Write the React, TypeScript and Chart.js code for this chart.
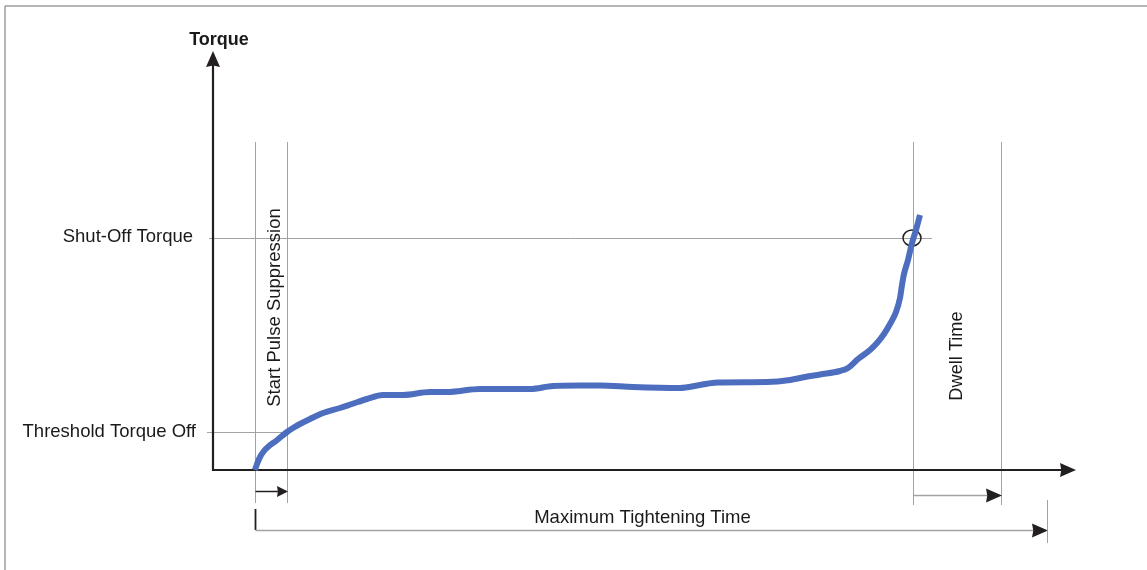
import React, { useEffect, useRef } from "react";
import { Chart, registerables } from "chart.js";

Chart.register(...registerables);

// Torque curve (time units, torque units)
const TIME = [42, 44, 47, 51, 56, 63, 69, 74, 80, 87, 97, 110, 127, 139, 154, 170, 190, 217, 234, 267, 317, 340, 367, 387, 420, 467, 487, 504, 554, 577, 592, 607, 627, 635, 645, 657, 664, 671, 677, 683, 687, 689, 691, 695, 699, 703, 707];
const TORQUE = [0, 6, 13, 19, 24, 29, 34, 38, 42, 46, 51, 57, 62, 66, 71, 75, 75, 78, 78, 81, 81, 84, 84.5, 84.5, 83, 82, 85, 87.5, 88, 90, 93, 95.5, 99, 102, 111, 120, 127, 136, 146, 158, 172, 185, 196, 210, 227, 240, 255];

// Reference levels / times
const THRESHOLD_TORQUE = 38;
const SHUTOFF_TORQUE = 232;
const START_TIME = 42;
const SUPPRESSION_END = 74;
const SHUTOFF_TIME = 700;
const DWELL_END = 788;
const MAX_TIME = 834;

// Labels
const Y_TITLE = "Torque";
const SHUTOFF_LABEL = "Shut-Off Torque";
const THRESHOLD_LABEL = "Threshold Torque Off";
const SUPPRESSION_LABEL = "Start Pulse Suppression";
const DWELL_LABEL = "Dwell Time";
const MAX_LABEL = "Maximum Tightening Time";

const W = 1147;
const H = 570;

const diagramPlugin = {
  id: "diagram",
  beforeDatasetsDraw(chart: any) {
    const { ctx, scales } = chart;
    const xs = scales.x;
    const ys = scales.y;
    const X = (v: number) => xs.getPixelForValue(v);
    const Y = (v: number) => ys.getPixelForValue(v);
    const c = (p: number) => Math.round(p) + 0.5;
    const GRAY = "#a3a3a3";
    const DARK = "#231f20";
    const TXT = "#1a1a1a";

    const line = (x1: number, y1: number, x2: number, y2: number, color: string, w: number) => {
      ctx.beginPath();
      ctx.strokeStyle = color;
      ctx.lineWidth = w;
      ctx.moveTo(x1, y1);
      ctx.lineTo(x2, y2);
      ctx.stroke();
    };
    const headRight = (tipX: number, yy: number, len: number, half: number) => {
      ctx.beginPath();
      ctx.fillStyle = DARK;
      ctx.moveTo(tipX, yy);
      ctx.lineTo(tipX - len, yy - half);
      ctx.lineTo(tipX - len * 0.92, yy);
      ctx.lineTo(tipX - len, yy + half);
      ctx.closePath();
      ctx.fill();
    };

    ctx.save();
    // frame
    line(5, 6, W, 6, "#9c9c9c", 1.5);
    line(5, 6, 5, H, "#9c9c9c", 1.5);

    const x0 = X(0);
    const y0 = Y(0);

    // reference lines
    line(c(X(START_TIME)), 142, c(X(START_TIME)), 503, GRAY, 1);
    line(c(X(SUPPRESSION_END)), 142, c(X(SUPPRESSION_END)), 503, GRAY, 1);
    line(c(X(SHUTOFF_TIME)), 142, c(X(SHUTOFF_TIME)), 505, GRAY, 1);
    line(c(X(DWELL_END)), 142, c(X(DWELL_END)), 505, GRAY, 1);
    line(209, c(Y(SHUTOFF_TORQUE)), 932, c(Y(SHUTOFF_TORQUE)), GRAY, 1);
    line(207, c(Y(THRESHOLD_TORQUE)), c(X(SUPPRESSION_END)), c(Y(THRESHOLD_TORQUE)), GRAY, 1);

    // axes
    line(x0, y0, 1064, y0, DARK, 2.2);
    headRight(1076, y0, 16, 7);
    line(x0, y0 + 1, x0, 62, DARK, 2.2);
    ctx.beginPath();
    ctx.fillStyle = DARK;
    ctx.moveTo(x0, 51);
    ctx.lineTo(x0 - 7, 67);
    ctx.lineTo(x0, 65.5);
    ctx.lineTo(x0 + 7, 67);
    ctx.closePath();
    ctx.fill();

    // start pulse suppression arrow
    const sx1 = c(X(START_TIME));
    const sx2 = X(SUPPRESSION_END) + 1;
    line(sx1, 491.5, sx2 - 8, 491.5, DARK, 1.5);
    headRight(sx2, 491.5, 11, 5.5);

    // dwell arrow
    const dx1 = c(X(SHUTOFF_TIME));
    const dx2 = X(DWELL_END) + 1;
    line(dx1, 495.5, dx2 - 12, 495.5, GRAY, 1.5);
    headRight(dx2, 495.5, 16, 7);

    // max tightening time
    const mx2 = X(MAX_TIME) + 1;
    line(sx1, 509, sx1, 530, DARK, 1.8);
    line(sx1, 530.5, mx2 - 12, 530.5, GRAY, 1.5);
    headRight(mx2, 530.5, 16, 7);
    line(c(X(MAX_TIME)), 500, c(X(MAX_TIME)), 543, GRAY, 1);

    // shut-off circle
    ctx.beginPath();
    ctx.strokeStyle = DARK;
    ctx.lineWidth = 1.5;
    ctx.ellipse(X(SHUTOFF_TIME) - 1, Y(SHUTOFF_TORQUE), 9, 8, 0, 0, Math.PI * 2);
    ctx.stroke();

    // texts
    const FONT = "'Liberation Sans', Arial, sans-serif";
    ctx.fillStyle = TXT;
    ctx.textBaseline = "middle";
    ctx.font = `bold 18px ${FONT}`;
    ctx.textAlign = "center";
    ctx.fillText(Y_TITLE, 219, 40);

    ctx.font = `18.5px ${FONT}`;
    ctx.textAlign = "right";
    ctx.fillText(SHUTOFF_LABEL, 193, Y(SHUTOFF_TORQUE) - 1);
    ctx.fillText(THRESHOLD_LABEL, 196, Y(THRESHOLD_TORQUE));

    ctx.textAlign = "center";
    ctx.fillText(MAX_LABEL, 642.5, 518);

    ctx.save();
    ctx.translate(275, 307.5);
    ctx.rotate(-Math.PI / 2);
    ctx.fillText(SUPPRESSION_LABEL, 0, 0);
    ctx.restore();

    ctx.save();
    ctx.translate(956.5, 356);
    ctx.rotate(-Math.PI / 2);
    ctx.font = `18.2px ${FONT}`;
    ctx.fillText(DWELL_LABEL, 0, 0);
    ctx.restore();

    ctx.restore();
  },
};

export default function App() {
  const ref = useRef<HTMLCanvasElement | null>(null);
  useEffect(() => {
    if (!ref.current) return;
    const chart = new Chart(ref.current, {
      type: "scatter",
      data: {
        datasets: [
          {
            data: TIME.map((t, i) => ({ x: t, y: TORQUE[i] })),
            showLine: true,
            borderColor: "#4d6ebe",
            borderWidth: 6,
            pointRadius: 0,
            borderCapStyle: "butt",
            borderJoinStyle: "round",
            cubicInterpolationMode: "monotone",
            clip: false,
          } as any,
        ],
      },
      options: {
        responsive: false,
        animation: false,
        devicePixelRatio: 1,
        layout: { padding: 0 },
        scales: {
          x: { type: "linear", min: -213, max: W - 213, display: false },
          y: { type: "linear", min: 470 - H, max: 470, display: false },
        },
        plugins: {
          legend: { display: false },
          tooltip: { enabled: false },
        },
        events: [],
      },
      plugins: [diagramPlugin],
    });
    return () => chart.destroy();
  }, []);
  return (
    <div style={{ position: "absolute", left: 0, top: 0, width: W, height: H, background: "#fff" }}>
      <canvas ref={ref} width={W} height={H} style={{ display: "block", width: W, height: H }} />
    </div>
  );
}
